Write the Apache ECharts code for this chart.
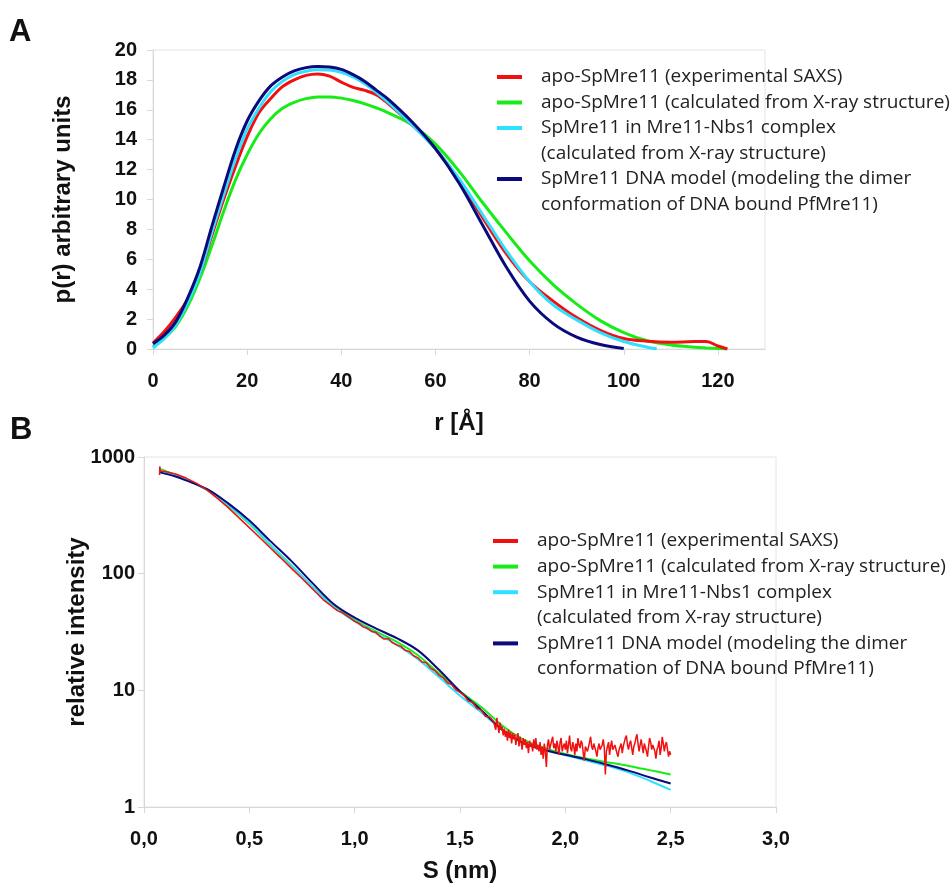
<!DOCTYPE html>
<html>
<head>
<meta charset="utf-8">
<script src="https://cdn.jsdelivr.net/npm/echarts@6/dist/echarts.min.js"></script>
<style>html,body{margin:0;padding:0;background:#fff}#c{width:952px;height:884px}</style>
</head>
<body>
<div id="c"></div>
<script>
// ---------- names ----------
const seriesNames = [
  'apo-SpMre11 (experimental SAXS)',
  'apo-SpMre11 (calculated from X-ray structure)',
  'SpMre11 in Mre11-Nbs1 complex (calculated from X-ray structure)',
  'SpMre11 DNA model (modeling the dimer conformation of DNA bound PfMre11)'
];
const legendLines = [
  ['apo-SpMre11 (experimental SAXS)'],
  ['apo-SpMre11 (calculated from X-ray structure)'],
  ['SpMre11 in Mre11-Nbs1 complex', '(calculated from X-ray structure)'],
  ['SpMre11 DNA model (modeling the dimer', 'conformation of DNA bound PfMre11)']
];
const colors = ['#f01010', '#18ec18', '#30e0ff', '#0a0a7c'];

// ---------- Panel A: p(r) ----------
const rA = [0,2.5,5,7.5,10,12.5,15,17.5,20,22.5,25,27.5,30,32.5,35,37.5,40,42.5,45,47.5,50,55,60,65,70,75,80,85,90,95,100,105,110,115,117.5,120,122];
const pExpA   = [0.4,1.2,2.2,3.4,5.1,7.6,10.0,12.2,14.2,15.8,16.75,17.55,18.0,18.3,18.4,18.25,17.85,17.5,17.3,17.0,16.4,15.0,13.4,11.3,8.8,6.4,4.5,3.2,2.1,1.25,0.7,0.52,0.45,0.5,0.5,0.2,0];
const pXrayA  = [0.15,0.75,1.6,2.95,4.75,6.9,9.2,11.3,13.0,14.4,15.4,16.1,16.5,16.75,16.86,16.86,16.78,16.62,16.4,16.12,15.8,15.0,13.7,11.9,9.8,7.8,5.9,4.3,3.0,1.9,1.1,0.55,0.27,0.12,0.07,0.03,0];
const rCplxA  = [0,2.5,5,7.5,10,12.5,15,17.5,20,22.5,25,27.5,30,32.5,35,37.5,40,42.5,45,47.5,50,55,60,65,70,75,80,85,90,95,100,105,107];
const pCplxA  = [0.07,0.75,1.7,3.2,5.1,7.8,10.3,12.7,14.7,16.1,17.2,17.9,18.35,18.58,18.68,18.66,18.5,18.2,17.75,17.15,16.5,15.0,13.4,11.4,9.0,6.6,4.5,2.95,1.95,1.1,0.5,0.12,0.02];
const rDnaA   = [0,2.5,5,7.5,10,12.5,15,17.5,20,22.5,25,27.5,30,32.5,35,37.5,40,42.5,45,47.5,50,55,60,65,70,75,80,85,90,95,100];
const pDnaA   = [0.35,0.95,1.9,3.5,5.5,8.2,10.8,13.3,15.25,16.6,17.6,18.2,18.6,18.82,18.9,18.86,18.7,18.35,17.9,17.3,16.7,15.2,13.4,11.1,8.3,5.5,3.2,1.7,0.8,0.3,0.03];
const rTicksA = [0,20,40,60,80,100,120];

// ---------- Panel B: I(s) ----------
const sModelB = [0.076,0.15,0.2,0.3,0.4,0.5,0.6,0.7,0.8,0.9,1.0,1.1,1.2,1.3,1.4,1.5,1.6,1.7,1.8,1.9,2.0,2.1,2.2,2.3,2.4,2.5];
const iXrayB = [790,700,640,520,385,268,175,117,77,53,40,32,26,20,14,9.8,7.2,5.0,3.8,3.2,2.85,2.6,2.42,2.25,2.07,1.9];
const iCplxB = [770,695,638,522,388,270,177,118,77,52,39,31,24.5,18.5,13,9.0,6.5,4.6,3.55,3.1,2.78,2.5,2.25,1.98,1.68,1.40];
const iDnaB  = [738,680,630,530,400,285,190,128,83,55,42,34,28,22,15,9.8,6.8,4.6,3.55,3.08,2.8,2.56,2.3,2.05,1.8,1.59];
// experimental curve, low-s part
const sExpB = [0.074,0.075,0.077,0.1,0.15,0.2,0.25,0.3,0.35,0.4,0.45,0.5,0.55,0.6,0.65,0.7,0.75,0.8,0.85,
  0.90,0.92,0.94,0.96,0.98,1.00,1.02,1.04,1.06,1.08,1.10,1.12,1.14,1.16,1.18,1.20,1.22,1.24,1.26,1.28,1.30,
  1.32,1.34,1.36,1.38,1.40,1.42,1.44,1.46,1.48,1.50,1.52,1.54,1.56,1.58,1.60,1.62,1.64];
const iExpB = [700,830,760,750,715,660,595,520,440,368,302,248,203,166,136,111,91,74,60,
  51,48,46.5,44,41.5,39,37.5,35,34,32,31.5,29,27.5,27.8,25.5,24.5,23.8,22,21.5,19.8,19,
  17.5,17.2,15.5,14.8,13.5,12.8,11.6,11.2,10.1,9.6,9.0,8.1,7.9,7.0,6.8,6.0,5.9];
// experimental curve, noisy high-s part (samples every 0.005 nm from 1.66)
const sNoiseStart = 1.66, sNoiseStep = 0.005;
const iNoiseB = [
  5.4,4.9,4.6,5.8,5.0,4.3,5.3,4.6,4.9,4.1,
  4.7,4.0,4.5,3.7,4.6,3.9,4.4,3.5,4.3,3.8,
  4.2,3.4,3.9,4.3,3.3,4.0,3.6,3.1,3.9,3.4,
  3.8,3.2,3.6,2.9,3.7,3.3,3.5,3.0,3.8,3.2,
  3.9,3.1,3.4,3.0,3.6,2.8,3.3,2.6,3.5,3.0,
  2.2,3.4,3.8,3.1,3.0,3.7,4.0,3.2,3.5,3.0,
  3.7,3.3,2.8,3.6,3.9,3.0,3.3,3.5,3.1,3.7,
  2.9,3.4,4.1,3.2,3.0,3.6,3.3,2.8,3.5,3.0,
  3.9,3.4,3.2,3.7,3.5,2.9,2.5,3.3,3.4,3.0,
  3.0,3.6,4.0,3.3,3.1,3.5,3.6,3.0,2.7,3.2,
  3.5,3.1,3.0,3.4,3.8,3.2,1.9,3.0,3.3,3.6,
  2.8,3.3,3.7,3.1,3.0,3.4,3.4,2.9,2.7,3.1,
  3.2,3.5,2.9,3.3,3.6,3.9,4.1,3.4,3.1,3.5,
  3.7,3.2,2.8,3.3,3.5,3.9,4.2,3.5,3.0,3.4,
  3.8,3.3,2.9,3.5,3.4,3.0,2.7,3.3,3.9,3.6,
  3.1,3.4,3.5,3.0,2.6,3.1,3.3,3.7,2.8,3.2,
  4.0,3.5,3.0,3.4,3.6,3.1,2.7,3.0,2.8];
const sTicksB = [0,0.5,1,1.5,2,2.5,3];

// ---------- helpers ----------
const pairs = (xs, ys) => xs.map((x, i) => [x, ys[i]]);
const expPairsB = pairs(sExpB, iExpB).concat(
  iNoiseB.map((v, i) => [+(sNoiseStart + i * sNoiseStep).toFixed(3), v]));
const tickFont = {fontFamily: 'Liberation Sans, Arial, sans-serif', fontWeight: 'bold', fontSize: 20, color: '#111'};
const nameFont = {fontFamily: 'Liberation Sans, Arial, sans-serif', fontWeight: 'bold', fontSize: 24, color: '#111'};
const lineGray = '#d8d8d8';

function legendGraphic(x0, y0, step, lw) {
  const els = [];
  let row = 0;
  legendLines.forEach((lines, k) => {
    const y = y0 + row * step;
    els.push({type: 'line', shape: {x1: x0, y1: y, x2: x0 + 25, y2: y},
      style: {stroke: colors[k], lineWidth: lw}});
    lines.forEach((t, j) => {
      els.push({type: 'text', x: x0 + 44, y: y + j * step,
        style: {text: t, fill: '#222', font: '19px "Open Sans", "Noto Sans", sans-serif', verticalAlign: 'middle', align: 'left'}});
    });
    row += lines.length;
  });
  return els;
}

const chart = echarts.init(document.getElementById('c'), null, {renderer: 'canvas'});
const option = {
  backgroundColor: '#fff',
  animation: false,
  grid: [
    {left: 153, top: 50, width: 612, height: 299, show: true, borderColor: '#e4e4e4', borderWidth: 1, backgroundColor: 'transparent'},
    {left: 144, top: 457, width: 632, height: 357, show: true, borderColor: '#e4e4e4', borderWidth: 1, backgroundColor: 'transparent'}
  ],
  xAxis: [
    {type: 'value', gridIndex: 0, min: 0, max: 130, interval: 20,
      name: 'r [Å]', nameLocation: 'middle', nameGap: 62, nameMoveOverlap: false, nameTextStyle: nameFont,
      axisLine: {show: true, lineStyle: {color: lineGray}},
      axisTick: {show: true, length: 6, lineStyle: {color: lineGray}},
      splitLine: {show: false},
      axisLabel: Object.assign({margin: 22, showMaxLabel: false,
        formatter: v => rTicksA.includes(v) ? String(v) : ''}, tickFont)},
    {type: 'value', gridIndex: 1, min: 0, max: 3, interval: 0.5,
      name: 'S (nm)', nameLocation: 'middle', nameGap: 52, nameMoveOverlap: false, nameTextStyle: nameFont,
      axisLine: {show: true, lineStyle: {color: lineGray}},
      axisTick: {show: true, length: 6, lineStyle: {color: lineGray}},
      splitLine: {show: false},
      axisLabel: Object.assign({margin: 22,
        formatter: v => sTicksB.includes(v) ? v.toFixed(1).replace('.', ',') : ''}, tickFont)}
  ],
  yAxis: [
    {type: 'value', gridIndex: 0, min: 0, max: 20, interval: 2,
      name: 'p(r) arbitrary units', nameLocation: 'middle', nameGap: 78, nameMoveOverlap: false, nameTextStyle: nameFont,
      axisLine: {show: true, lineStyle: {color: lineGray}},
      axisTick: {show: true, length: 6, lineStyle: {color: lineGray}},
      splitLine: {show: false},
      axisLabel: Object.assign({margin: 16}, tickFont)},
    {type: 'log', gridIndex: 1, min: 1, max: 1000, logBase: 10,
      name: 'relative intensity', nameLocation: 'middle', nameGap: 55, nameMoveOverlap: false, nameTextStyle: nameFont,
      axisLine: {show: true, lineStyle: {color: lineGray}},
      axisTick: {show: true, length: 6, lineStyle: {color: lineGray}},
      splitLine: {show: false},
      minorTick: {show: false},
      axisLabel: Object.assign({margin: 9, formatter: v => String(Math.round(v))}, tickFont)}
  ],
  series: [
    {name: seriesNames[1], type: 'line', xAxisIndex: 0, yAxisIndex: 0, data: pairs(rA, pXrayA), smooth: 0.35, symbol: 'none', lineStyle: {color: colors[1], width: 3}, itemStyle: {color: colors[1]}},
    {name: seriesNames[0], type: 'line', xAxisIndex: 0, yAxisIndex: 0, data: pairs(rA, pExpA), smooth: 0.35, symbol: 'none', lineStyle: {color: colors[0], width: 3}, itemStyle: {color: colors[0]}},
    {name: seriesNames[2], type: 'line', xAxisIndex: 0, yAxisIndex: 0, data: pairs(rCplxA, pCplxA), smooth: 0.35, symbol: 'none', lineStyle: {color: colors[2], width: 3}, itemStyle: {color: colors[2]}},
    {name: seriesNames[3], type: 'line', xAxisIndex: 0, yAxisIndex: 0, data: pairs(rDnaA, pDnaA), smooth: 0.35, symbol: 'none', lineStyle: {color: colors[3], width: 3}, itemStyle: {color: colors[3]}},

    {name: seriesNames[1], type: 'line', xAxisIndex: 1, yAxisIndex: 1, data: pairs(sModelB, iXrayB), smooth: 0.35, symbol: 'none', lineStyle: {color: colors[1], width: 2}, itemStyle: {color: colors[1]}},
    {name: seriesNames[2], type: 'line', xAxisIndex: 1, yAxisIndex: 1, data: pairs(sModelB, iCplxB), smooth: 0.35, symbol: 'none', lineStyle: {color: colors[2], width: 2}, itemStyle: {color: colors[2]}},
    {name: seriesNames[3], type: 'line', xAxisIndex: 1, yAxisIndex: 1, data: pairs(sModelB, iDnaB), smooth: 0.35, symbol: 'none', lineStyle: {color: colors[3], width: 2}, itemStyle: {color: colors[3]}},
    {name: seriesNames[0], type: 'line', xAxisIndex: 1, yAxisIndex: 1, data: expPairsB, smooth: false, symbol: 'none', lineStyle: {color: colors[0], width: 1.5}, itemStyle: {color: colors[0]}}
  ],
  graphic: [
    {type: 'text', left: 9, top: 17, style: {text: 'A', font: 'bold 31px "Liberation Sans", Arial, sans-serif', fill: '#111'}},
    {type: 'text', left: 10, top: 415, style: {text: 'B', font: 'bold 31px "Liberation Sans", Arial, sans-serif', fill: '#111'}},
    {type: 'group', children: legendGraphic(497, 77, 25.5, 4)},
    {type: 'group', children: legendGraphic(493, 541, 25.6, 4)}
  ]
};
chart.setOption(option);
</script>
</body>
</html>
